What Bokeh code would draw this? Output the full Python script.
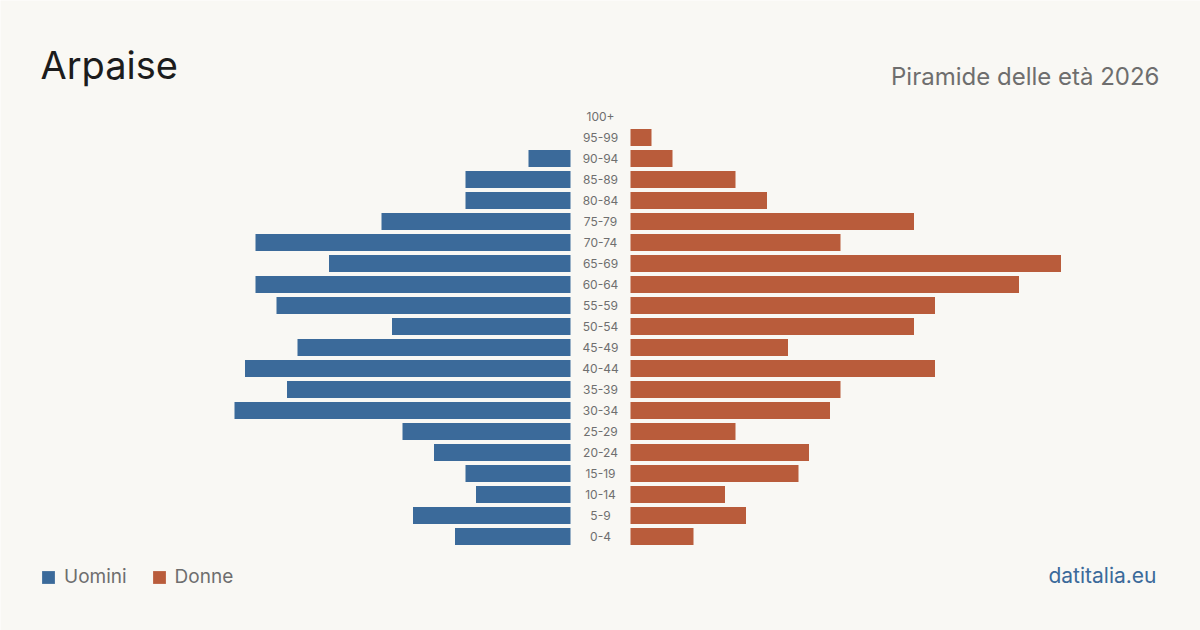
from bokeh.plotting import figure
from bokeh.models import Range1d, Label, Legend, LegendItem, ColumnDataSource
from bokeh.core.properties import value
from bokeh.embed import file_html
from bokeh.resources import INLINE

# Age classes, youngest first
ages = ["0-4", "5-9", "10-14", "15-19", "20-24", "25-29", "30-34", "35-39",
        "40-44", "45-49", "50-54", "55-59", "60-64", "65-69", "70-74", "75-79",
        "80-84", "85-89", "90-94", "95-99", "100+"]
uomini = [11, 15, 9, 10, 13, 16, 32, 27, 31, 26, 17, 28, 30, 23, 30, 18, 10, 10, 4, 0, 0]
donne = [6, 11, 9, 16, 17, 10, 19, 20, 29, 15, 27, 29, 37, 41, 20, 27, 13, 10, 4, 2, 0]

W, H = 1200, 630
PX = 10.5          # pixels per person
GAP = 30 / PX      # half-width of the central label column
ROW = 21           # pixels per age class
BASE_Y = 536       # pixel row of the youngest class (from top)

BG = "#f9f8f4"
BLUE = "#3b6a9a"
RED = "#b95c3b"
FONT = "Inter"

idx = list(range(len(ages)))
src = ColumnDataSource(dict(
    y=idx,
    age=ages,
    m_left=[-GAP - v for v in uomini],
    m_right=[-GAP] * len(ages),
    f_left=[GAP] * len(ages),
    f_right=[GAP + v for v in donne],
    zero=[0] * len(ages),
))

p = figure(width=W, height=H, output_backend="svg", toolbar_location=None,
           x_range=Range1d(-(W / 2) / PX, (W / 2) / PX),
           y_range=Range1d(-(H - BASE_Y) / ROW, BASE_Y / ROW),
           min_border=0, border_fill_color=BG, background_fill_color=BG)
p.axis.visible = False
p.grid.visible = False
p.outline_line_color = None

bar_h = 17 / ROW
r_m = p.hbar(y="y", left="m_left", right="m_right", height=bar_h, source=src,
             fill_color=BLUE, line_color=None)
r_f = p.hbar(y="y", left="f_left", right="f_right", height=bar_h, source=src,
             fill_color=RED, line_color=None)

p.text(x="zero", y="y", text="age", source=src, text_align="center",
       text_baseline="middle", text_font=value(FONT), text_font_size="12px",
       text_color="#6f6f6f")

p.add_layout(Label(x=40, y=H - 87, x_units="screen", y_units="screen",
                   text="Arpaise", text_font=FONT, text_font_size="38px",
                   text_color="#1c1c1c"))
p.add_layout(Label(x=1159, y=H - 90, x_units="screen", y_units="screen",
                   text="Piramide delle età 2026", text_align="right",
                   text_font=FONT, text_font_size="24px", text_color="#6e6e6e"))
p.add_layout(Label(x=1156, y=H - 587, x_units="screen", y_units="screen",
                   text="datitalia.eu", text_align="right",
                   text_font=FONT, text_font_size="21px", text_color=BLUE))

legend = Legend(items=[LegendItem(label="Uomini", renderers=[r_m]),
                       LegendItem(label="Donne", renderers=[r_f])],
                orientation="horizontal", location=(40, H - 588),
                glyph_width=16, glyph_height=16, label_standoff=8, spacing=24,
                padding=0, margin=0, label_text_font=FONT,
                label_text_font_size="19px", label_text_color="#6e6e6e",
                background_fill_alpha=0, border_line_color=None)
p.add_layout(legend)

open("out.html", "w").write(file_html(p, INLINE))
